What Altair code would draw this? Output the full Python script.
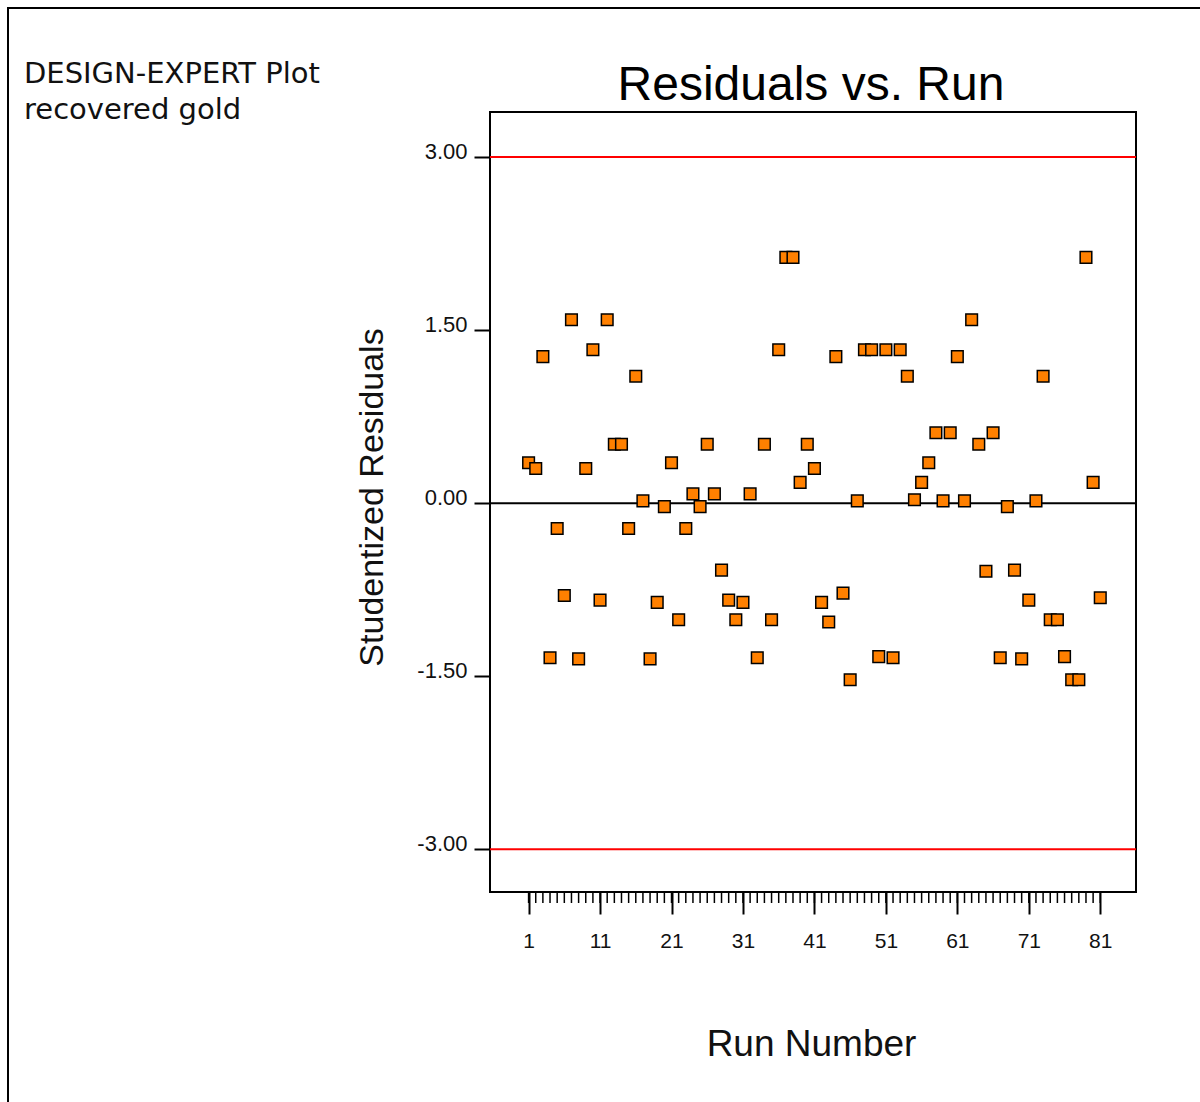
import altair as alt
import pandas as pd

# Run order and studentized residuals
runs = list(range(1, 82))
residuals = [
    0.35, 0.30, 1.27, -1.34, -0.22, -0.80, 1.59, -1.35, 0.30, 1.33,
    -0.84, 1.59, 0.51, 0.51, -0.22, 1.10, 0.02, -1.35, -0.86, -0.03,
    0.35, -1.01, -0.22, 0.08, -0.03, 0.51, 0.08, -0.58, -0.84, -1.01,
    -0.86, 0.08, -1.34, 0.51, -1.01, 1.33, 2.13, 2.13, 0.18, 0.51,
    0.30, -0.86, -1.03, 1.27, -0.78, -1.53, 0.02, 1.33, 1.33, -1.33,
    1.33, -1.34, 1.33, 1.10, 0.03, 0.18, 0.35, 0.61, 0.02, 0.61,
    1.27, 0.02, 1.59, 0.51, -0.59, 0.61, -1.34, -0.03, -0.58, -1.35,
    -0.84, 0.02, 1.10, -1.01, -1.01, -1.33, -1.53, -1.53, 2.13, 0.18,
    -0.82,
]
ref_values = [3.0, -3.0, 0.0]
ref_colors = ["#ff0000", "#ff0000", "#000000"]
x_ticks = [1, 11, 21, 31, 41, 51, 61, 71, 81]
y_ticks = [-3.0, -1.5, 0.0, 1.5, 3.0]
note_lines = "DESIGN-EXPERT Plot\nrecovered gold"
chart_title = "Residuals vs. Run"

W, H = 646, 780
FONT = "Liberation Sans"

df = pd.DataFrame({"run": runs, "res": residuals})
refs = pd.DataFrame({"y": ref_values, "c": ref_colors})

xscale = alt.Scale(domain=[-4.4, 86.0], nice=False, zero=False)
yscale = alt.Scale(domain=[-3.37, 3.39], nice=False, zero=False)

xaxis = alt.Axis(
    values=x_ticks, title="Run Number", grid=False, domain=False,
    tickSize=22, tickWidth=2, tickColor="black",
    labelFontSize=21, labelFont=FONT, labelColor="#111", labelPadding=16,
    labelBaseline="top", labelFlush=False,
    titleFontSize=37, titleFont=FONT, titleFontWeight="normal", titleColor="#111",
    titleX=321, titleY=163, titleBaseline="alphabetic", titleAlign="center",
)
yaxis = alt.Axis(
    values=y_ticks, title="Studentized Residuals", grid=False, domain=False,
    labelExpr="(datum.value < 0 ? '-' : '') + format(abs(datum.value), '.2f')",
    tickSize=16, tickWidth=2, tickColor="black",
    labelFontSize=22, labelFont=FONT, labelColor="#111", labelPadding=7,
    labelBaseline="alphabetic", labelOffset=1, labelFlush=False,
    titleFontSize=34, titleFont=FONT, titleFontWeight="normal", titleColor="#111",
    titleX=-108, titleY=385, titleAngle=270, titleBaseline="alphabetic", titleAlign="center",
)

points = alt.Chart(df).mark_square(
    size=135, filled=True, color="#ff8000", stroke="black", strokeWidth=1.5, opacity=1
).encode(
    x=alt.X("run:Q", scale=xscale, axis=xaxis),
    y=alt.Y("res:Q", scale=yscale, axis=yaxis),
)

ref_lines = alt.Chart(refs).mark_rule(strokeWidth=2).encode(
    y=alt.Y("y:Q", scale=yscale),
    color=alt.Color("c:N", scale=None),
)

minor_ticks = alt.Chart(df).mark_rule(strokeWidth=1.5, color="black").encode(
    x=alt.X("run:Q", scale=xscale),
    y=alt.value(H),
    y2=alt.value(H + 11),
)

note = alt.Chart(pd.DataFrame({"t": [note_lines]})).mark_text(
    align="left", baseline="alphabetic", font="DejaVu Sans", fontSize=29,
    lineBreak="\n", lineHeight=36, color="#111",
).encode(
    text="t:N",
    x=alt.value(-466),
    y=alt.value(-29),
)

title = alt.Chart(pd.DataFrame({"t": [chart_title]})).mark_text(
    align="center", baseline="alphabetic", font=FONT, fontSize=48, color="black",
).encode(
    text="t:N",
    x=alt.value(W / 2 - 2),
    y=alt.value(-12),
)

border = alt.Chart(pd.DataFrame({"a": [0]})).mark_rect(
    filled=False, stroke="black", strokeWidth=2
).encode(
    x=alt.value(-482), x2=alt.value(W + 300),
    y=alt.value(-104), y2=alt.value(H + 400),
)

chart = alt.layer(ref_lines, minor_ticks, points, note, title, border).properties(
    width=W, height=H,
    background="white",
    autosize=alt.AutoSizeParams(type="none"),
    padding={"left": 490, "top": 112, "right": 64, "bottom": 210},
).configure_view(stroke="black", strokeWidth=2)

chart.save("out.html", embed_options={"renderer": "svg", "actions": False})
